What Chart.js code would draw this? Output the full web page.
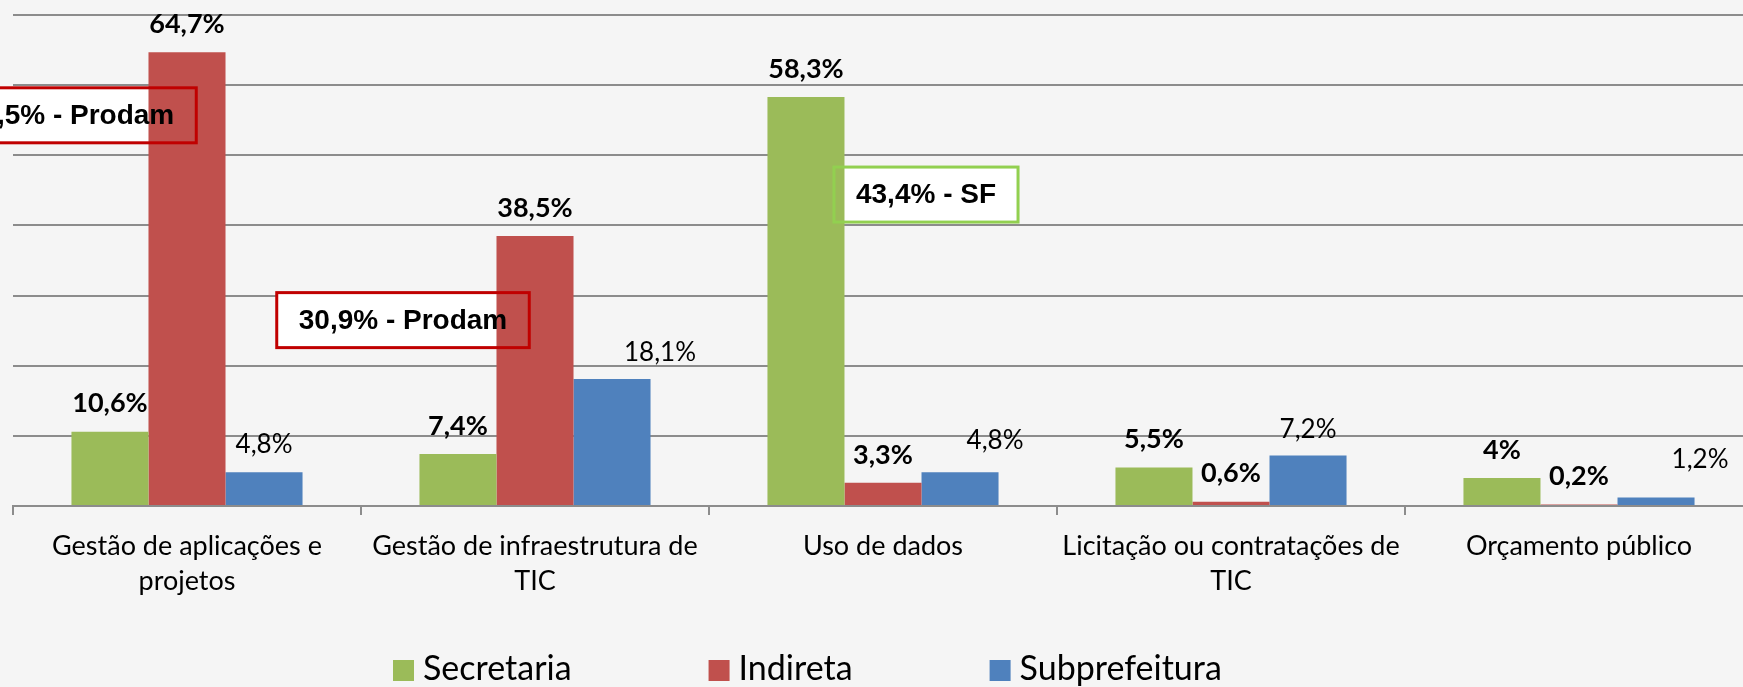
<!DOCTYPE html>
<html>
<head>
<meta charset="utf-8">
<script src="https://cdn.jsdelivr.net/npm/chart.js@4.4.1/dist/chart.umd.min.js"></script>
<style>
  html, body { margin: 0; padding: 0; overflow: hidden; background: #f5f5f5; }
  #wrap { width: 1760px; height: 687px; position: relative; }
</style>
</head>
<body>
<div id="wrap"><canvas id="chart"></canvas></div>
<script>
const categories = [
  ["Gestão de aplicações e", "projetos"],
  ["Gestão de infraestrutura de", "TIC"],
  "Uso de dados",
  ["Licitação ou contratações de", "TIC"],
  "Orçamento público"
];
const seriesNames = ["Secretaria", "Indireta", "Subprefeitura"];
const secretaria = [10.6, 7.4, 58.3, 5.5, 4];
const indireta = [64.7, 38.5, 3.3, 0.6, 0.2];
const subprefeitura = [4.8, 18.1, 4.8, 7.2, 1.2];
const yMax = 70;
const yStep = 10;
const calloutTexts = ["41,5% - Prodam", "30,9% - Prodam", "43,4% - SF"];
const calloutCategory = [0, 1, 2];
const calloutLevel = [55.7, 26.5, 44.4];

const colors = ["#9bbb59", "#c0504d", "#4f81bd"];
const calloutColors = ["#c00000", "#c00000", "#92d050"];
const calloutShift = [-117, -132, 43];
// label nudges for the Subprefeitura series (dx, dy)
const subLabelShift = [[0, 0], [48, 2], [35, -4], [0, 2], [44, -10]];

function pct(v) {
  return String(v).replace(".", ",") + "%";
}

function calloutBox(chart, i) {
  const ctx = chart.ctx;
  const x = chart.scales.x.getPixelForValue(calloutCategory[i]) + calloutShift[i];
  const y = chart.scales.y.getPixelForValue(calloutLevel[i]);
  ctx.font = "bold 28px 'Liberation Sans', Arial, sans-serif";
  const w = ctx.measureText(calloutTexts[i]).width + 44;
  const h = 55;
  return { x: x - w / 2, y: y - h / 2, w: w, h: h, cx: x, cy: y };
}

const calloutPlugin = {
  id: "callouts",
  beforeDatasetsDraw(chart) {
    const ctx = chart.ctx;
    ctx.save();
    for (let i = 0; i < calloutTexts.length; i++) {
      const b = calloutBox(chart, i);
      ctx.fillStyle = "#ffffff";
      ctx.fillRect(b.x, b.y, b.w, b.h);
    }
    ctx.restore();
  },
  afterDatasetsDraw(chart) {
    const ctx = chart.ctx;
    ctx.save();
    for (let i = 0; i < calloutTexts.length; i++) {
      const b = calloutBox(chart, i);
      ctx.strokeStyle = calloutColors[i];
      ctx.lineWidth = 3;
      ctx.strokeRect(b.x, b.y, b.w, b.h);
      ctx.fillStyle = "#000";
      ctx.textAlign = "center";
      ctx.textBaseline = "middle";
      ctx.font = "bold 28px 'Liberation Sans', Arial, sans-serif";
      ctx.fillText(calloutTexts[i], b.cx, b.cy + 1);
    }
    ctx.restore();
  }
};

const valueLabelPlugin = {
  id: "valueLabels",
  afterDatasetsDraw(chart) {
    const ctx = chart.ctx;
    ctx.save();
    ctx.fillStyle = "#000";
    ctx.textAlign = "center";
    ctx.textBaseline = "middle";
    chart.data.datasets.forEach((ds, di) => {
      const meta = chart.getDatasetMeta(di);
      meta.data.forEach((bar, i) => {
        let dx = 0, dy = 0;
        if (di === 2) {
          ctx.font = "26px Lato, sans-serif";
          dx = subLabelShift[i][0];
          dy = subLabelShift[i][1];
        } else {
          ctx.font = "bold 27px Lato, sans-serif";
        }
        ctx.fillText(pct(ds.data[i]), bar.x + dx, bar.y - 28 + dy);
      });
    });
    ctx.restore();
  }
};

const legendPlugin = {
  id: "bottomLegend",
  afterDraw(chart) {
    const ctx = chart.ctx;
    ctx.save();
    ctx.font = "34px Lato, sans-serif";
    ctx.textBaseline = "alphabetic";
    ctx.textAlign = "left";
    let x = 393;
    const top = 660;
    seriesNames.forEach((name, i) => {
      ctx.fillStyle = colors[i];
      ctx.fillRect(x, top, 21, 21);
      ctx.fillStyle = "#000";
      ctx.fillText(name, x + 30, top + 20);
      x += 30 + ctx.measureText(name).width + 137;
    });
    ctx.restore();
  }
};

const ctx = document.getElementById("chart").getContext("2d");

new Chart(ctx, {
  type: "bar",
  data: {
    labels: categories,
    datasets: [
      { label: seriesNames[0], data: secretaria, backgroundColor: colors[0] },
      { label: seriesNames[1], data: indireta, backgroundColor: colors[1] },
      { label: seriesNames[2], data: subprefeitura, backgroundColor: colors[2] }
    ]
  },
  options: {
    responsive: true,
    maintainAspectRatio: false,
    animation: false,
    datasets: {
      bar: { categoryPercentage: 0.664, barPercentage: 1.0, borderWidth: 0 }
    },
    layout: { padding: { left: 13, right: 7, top: 15, bottom: 74 } },
    plugins: {
      legend: { display: false },
      tooltip: { enabled: false }
    },
    scales: {
      x: {
        grid: {
          display: true,
          drawOnChartArea: false,
          drawTicks: true,
          tickLength: 9,
          color: "#8c8c8c",
          lineWidth: 2
        },
        border: { display: true, color: "#8c8c8c", width: 2 },
        ticks: {
          color: "#000",
          font: { family: "Lato", size: 27, lineHeight: "35px" },
          padding: 14,
          maxRotation: 0,
          autoSkip: false
        }
      },
      y: {
        min: 0,
        max: yMax,
        ticks: { display: false, stepSize: yStep },
        grid: { color: "#8c8c8c", lineWidth: 2, drawTicks: false },
        border: { display: false }
      }
    }
  },
  plugins: [calloutPlugin, valueLabelPlugin, legendPlugin]
});
</script>
</body>
</html>
